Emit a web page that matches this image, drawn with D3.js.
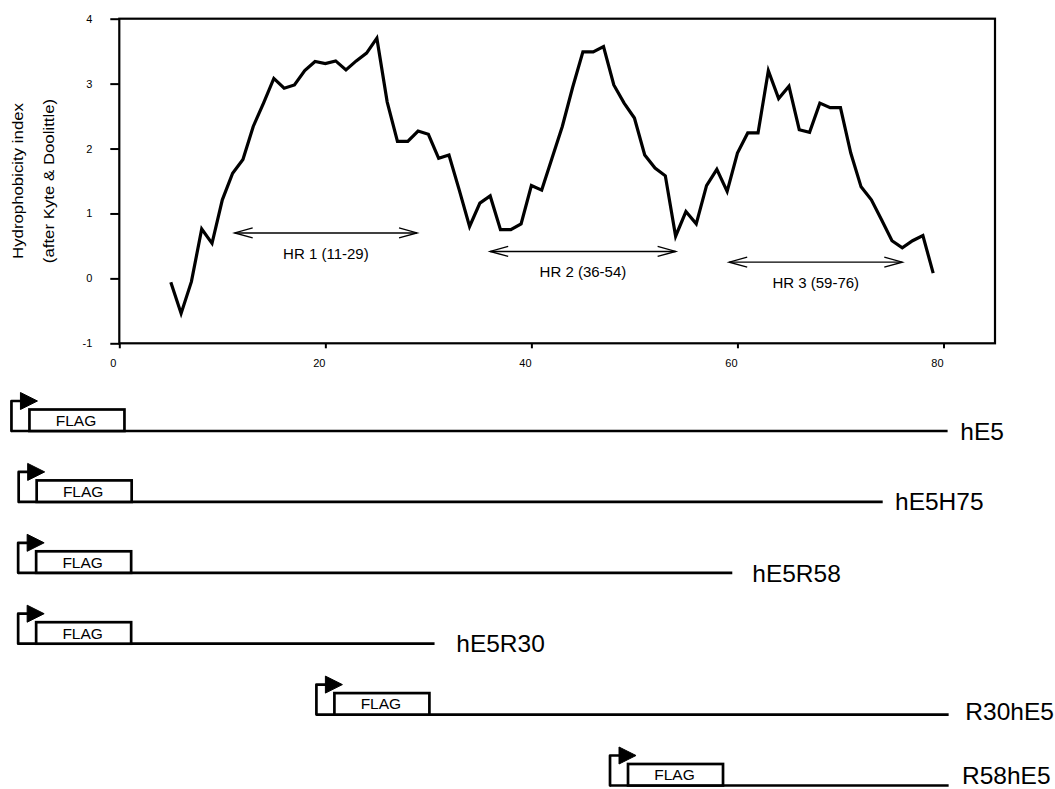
<!DOCTYPE html>
<html><head><meta charset="utf-8">
<script src="https://cdn.jsdelivr.net/npm/d3@7"></script>
<style>
body{margin:0;background:#fff}
svg{display:block}
text{font-family:"Liberation Sans",Arial,Helvetica,sans-serif;fill:#000}
</style>
</head><body>
<svg id="chart" width="1055" height="789"></svg>
<script>
// ---- data ----
const residues = [5,6,7,8,9,10,11,12,13,14,15,16,17,18,19,20,21,22,23,24,25,26,27,28,29,30,31,32,33,34,35,36,37,38,39,40,41,42,43,44,45,46,47,48,49,50,51,52,53,54,55,56,57,58,59,60,61,62,63,64,65,66,67,68,69,70,71,72,73,74,75,76,77,78,79];
const hydrophobicity = [-0.06,-0.54,-0.05,0.76,0.54,1.21,1.62,1.83,2.34,2.70,3.08,2.93,2.98,3.20,3.34,3.31,3.35,3.21,3.35,3.47,3.70,2.72,2.11,2.11,2.27,2.22,1.85,1.90,1.36,0.80,1.16,1.27,0.75,0.75,0.84,1.43,1.36,1.85,2.34,2.94,3.49,3.49,3.57,2.98,2.70,2.47,1.90,1.70,1.58,0.65,1.03,0.84,1.43,1.68,1.34,1.93,2.24,2.24,3.20,2.77,2.96,2.29,2.25,2.70,2.63,2.63,1.93,1.41,1.21,0.90,0.58,0.47,0.58,0.66,0.08];
const xTicks = [0,20,40,60,80];
const yTicks = [-1,0,1,2,3,4];
const yTitle = ["Hydrophobicity index","(after Kyte & Doolittle)"];

const regionLabels = ["HR 1 (11-29)","HR 2 (36-54)","HR 3 (59-76)"];
const regionStart = [11.2,36.0,59.2];
const regionEnd = [28.9,54.0,76.0];
const regionLevel = [0.70,0.415,0.25];

const constructNames = ["hE5","hE5H75","hE5R58","hE5R30","R30hE5","R58hE5"];
const fragStart = [0.5,1.2,1.15,1.15,30.1,58.6];
const fragEnd = [80.4,74.1,59.5,30.6,80.5,80.5];
const tagLabel = "FLAG";

// ---- layout ----
const svg = d3.select("#chart");
const x = d3.scaleLinear().domain([0,85]).range([119.3,995]);
const y = d3.scaleLinear().domain([-1,4]).range([343.3,18.7]);
const rowY = d3.scalePoint().domain(constructNames).range([431,785.5]);
const labelGap = [12.7,12.3,20,21.7,16.7,13.4];
const labelDy = [8.6,7.7,9.2,8,5.7,-1.8];
const flagW = 95;
const fmt = d => String(d);

// frame
svg.append("rect").attr("x",x(0)).attr("y",y(4)).attr("width",x(85)-x(0)).attr("height",y(-1)-y(4))
  .attr("fill","none").attr("stroke","#000").attr("stroke-width",2.2);

// axes
const gx = svg.append("g").attr("transform",`translate(0,${y(-1)})`)
  .call(d3.axisBottom(x).tickValues(xTicks).tickSize(5).tickSizeOuter(0).tickPadding(11).tickFormat(fmt));
gx.select(".domain").remove();
gx.selectAll("line").attr("stroke","#000").attr("stroke-width",2);
gx.selectAll("text").attr("font-size",11).attr("dx",-6.5).style("font-family","'Liberation Sans',Arial,sans-serif");

const gy = svg.append("g").attr("transform",`translate(${x(0)},0)`)
  .call(d3.axisLeft(y).tickValues(yTicks).tickSize(9).tickSizeOuter(0).tickPadding(18).tickFormat(fmt));
gy.select(".domain").remove();
gy.selectAll("line").attr("stroke","#000").attr("stroke-width",2);
gy.selectAll("text").attr("font-size",11).style("font-family","'Liberation Sans',Arial,sans-serif");

// y title
const yTitleX = [18,49];
yTitle.forEach((t,i)=>{
  svg.append("g").attr("transform",`translate(${yTitleX[i]},181) rotate(-90)`)
    .append("text").attr("text-anchor","middle").attr("dy","0.35em")
    .attr("font-size",14.5).attr("transform","scale(1.16,1)").text(t);
});

// hydropathy line
const pts = residues.map((r,i)=>[r,hydrophobicity[i]]);
svg.append("path").datum(pts)
  .attr("d",d3.line().x(d=>x(d[0])).y(d=>y(d[1])))
  .attr("fill","none").attr("stroke","#000").attr("stroke-width",3.2).attr("stroke-linejoin","miter");

// region arrows
regionLabels.forEach((lab,i)=>{
  const x1 = x(regionStart[i]), x2 = x(regionEnd[i]), yy = y(regionLevel[i]);
  const g = svg.append("g").attr("fill","none").attr("stroke","#000").attr("stroke-width",1.4);
  g.append("line").attr("x1",x1).attr("x2",x2).attr("y1",yy).attr("y2",yy);
  g.append("path").attr("d",`M${x1+18},${yy-5}L${x1},${yy}L${x1+18},${yy+5}`);
  g.append("path").attr("d",`M${x2-18},${yy-5}L${x2},${yy}L${x2-18},${yy+5}`);
  svg.append("text").attr("x",(x1+x2)/2).attr("y",yy+26).attr("text-anchor","middle")
    .attr("font-size",15).text(lab);
});

// constructs
constructNames.forEach((name,i)=>{
  const ly = rowY(name);
  const bx = x(fragStart[i]) - flagW;
  const ex = x(fragEnd[i]);
  const g = svg.append("g");
  g.append("path").attr("d",`M${bx-18},${ly}H${ex}`)
    .attr("stroke","#000").attr("stroke-width",2.7).attr("fill","none");
  g.append("path").attr("d",`M${bx-18},${ly}V${ly-30}H${bx-9}`)
    .attr("stroke","#000").attr("stroke-width",2.7).attr("fill","none").attr("stroke-linejoin","round").attr("stroke-linecap","round");
  g.append("path").attr("d",`M${bx-9},${ly-38.5}L${bx+8},${ly-30}L${bx-9},${ly-21.5}Z`)
    .attr("fill","#000").attr("stroke","#000").attr("stroke-width",1);
  g.append("rect").attr("x",bx).attr("y",ly-21.5).attr("width",flagW).attr("height",21.5)
    .attr("fill","#fff").attr("stroke","#000").attr("stroke-width",2.7);
  g.append("text").attr("x",bx+flagW/2-1).attr("y",ly-5.2).attr("text-anchor","middle")
    .attr("font-size",15.5).text(tagLabel);
  g.append("text").attr("x",ex+labelGap[i]).attr("y",ly+labelDy[i]).attr("font-size",24.5).text(name);
});
</script>
</body></html>
